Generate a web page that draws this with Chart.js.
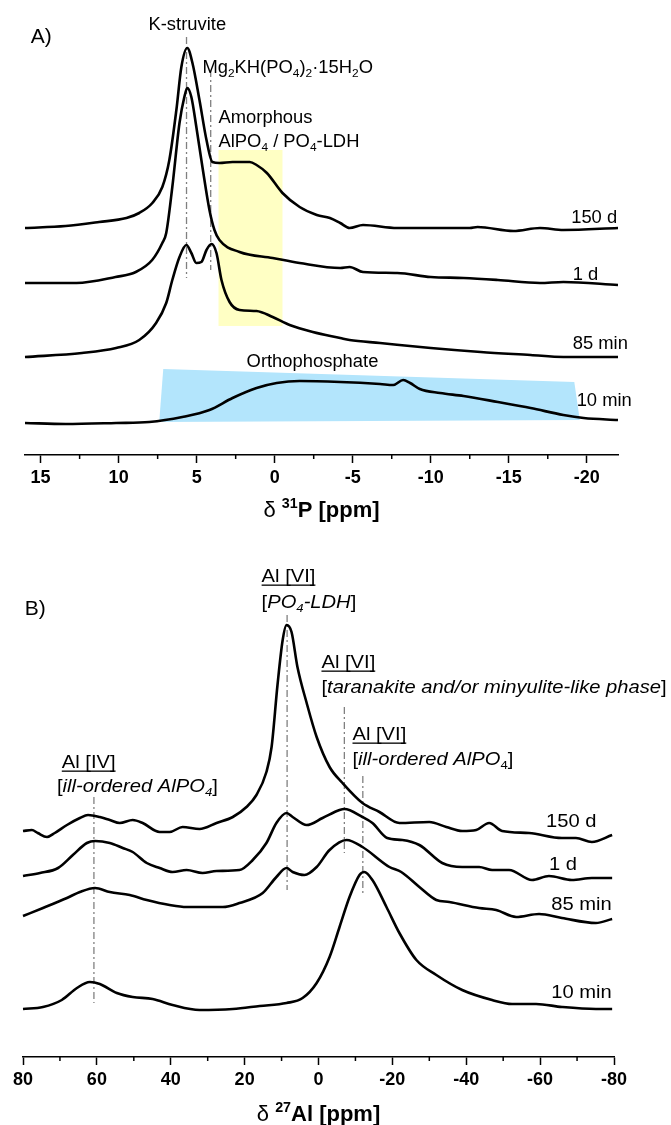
<!DOCTYPE html>
<html>

<head>
    <title>31P and 27Al NMR spectra</title>
    <script src="https://cdn.jsdelivr.net/npm/chart.js"></script>
    <style>
        body { margin: 0; background: #fff; }
        canvas { display: block; }
    </style>
</head>

<body>
    <canvas id="chartP" width="671" height="530"></canvas>
    <canvas id="chartAl" width="671" height="595"></canvas>
    <script>
        const FONT = '"Liberation Sans", Arial, sans-serif';

        // --- 31P spectra (shift in ppm, stacked intensity in a.u.) ---
        const p150dShift = [16, 13.4, 11.25, 9.5, 8.68, 7.84, 7.2, 6.75, 6.3, 5.98, 5.6, 5.27, 4.82, 4.37, 3.99, 3.54, 2.7, 1.6, 1.16, 0.5, -0.5, -1.6, -2.7, -3.54, -4.2, -4.8, -5.66, -7.85, -12.5, -13, -15.3, -17, -18.5, -22];
        const p150dInt = [227, 229, 233, 237, 242, 252, 268, 295, 345, 388, 407, 392, 355, 315, 293, 292, 293, 293, 290, 282, 262, 248, 240, 237, 232, 227, 230, 227, 227, 228, 224, 227, 225, 227];

        const p1dShift = [16, 12.7, 10.2, 8.9, 7.85, 7.2, 6.95, 6.56, 6.1, 5.79, 5.6, 5.34, 5.02, 4.63, 4.18, 3.86, 3.54, 2.25, 0.13, -1.6, -4.2, -4.8, -5.66, -7.85, -10, -12.1, -14.3, -17, -18.5, -22];
        const p1dInt = [172, 172, 178, 183, 195, 212, 222, 268, 332, 358, 367, 358, 328, 288, 245, 225, 215, 203, 197, 192, 187, 188, 183, 182, 178, 177, 175, 172, 173, 170];

        const p85mShift = [16, 12.35, 10.16, 8.68, 7.6, 6.95, 6.56, 6.1, 5.66, 5.34, 5.02, 4.7, 4.37, 4.05, 3.73, 3.41, 2.89, 2.25, 1.16, 0.13, -0.96, -2.44, -4.2, -4.8, -6.75, -10, -13.2, -16.4, -18.5, -22];
        const p85mInt = [98, 102, 107, 115, 132, 152, 175, 198, 210, 202, 192, 193, 205, 211, 202, 175, 153, 145, 144, 138, 130, 123, 117, 115, 112, 107, 103, 100, 98, 98];

        const p10mShift = [16, 13.4, 10.16, 8.04, 5.92, 4.18, 2.7, 1.16, -0.13, -1.6, -4.2, -6.75, -7.6, -8.23, -8.68, -9.3, -10.6, -12.1, -14.3, -16.4, -18.5, -19.8, -22];
        const p10mInt = [32, 31, 32, 33, 38, 45, 57, 67, 72, 74, 73, 71, 70, 75, 72, 66, 62, 59, 53, 47, 40, 37, 35];

        // --- 27Al spectra ---
        const al150dShift = [80, 77.6, 76, 73.5, 71.4, 68.1, 64.6, 62.4, 59.2, 56.5, 53.8, 50.3, 47.6, 43, 40.3, 36.8, 32.2, 27.6, 23.2, 19.5, 16.8, 14.1, 12.7, 11.1, 9.7, 8.65, 7.3, 5.7, 3.2, 0.5, -3, -6.5, -11.9, -16.5, -21.9, -30, -34.6, -38.9, -42.7, -46.2, -49.7, -57, -65.9, -69.7, -74, -79.5];
        const al150dInt = [226, 227, 224, 220, 224, 232, 239, 242, 240, 237, 234, 237, 234, 225, 225, 230, 228, 234, 240, 250, 262, 285, 310, 372, 417, 432, 425, 390, 354, 320, 290, 274, 254, 245, 234, 235, 230, 226, 227, 234, 226, 224, 219, 219, 215, 222];

        const al1dShift = [80, 75.4, 70.5, 66.5, 62.7, 60.5, 56.5, 53, 50.3, 46.5, 43, 39.5, 35.7, 31.4, 27.6, 21.4, 17.8, 14.1, 11.4, 8.65, 7, 3.2, -1.1, -5.7, -7, -11.9, -14.6, -18.6, -22.7, -27.3, -33.5, -38.9, -43.5, -47, -51.6, -57.8, -62.4, -68.6, -74, -79.5];
        const al1dInt = [181, 184, 189, 202, 214, 216, 214, 209, 205, 194, 189, 185, 187, 184, 186, 187, 197, 214, 234, 244, 240, 232, 239, 247, 248, 240, 234, 219, 217, 212, 194, 190, 190, 187, 187, 177, 181, 177, 179, 179];

        const al85mShift = [80, 74.6, 68.1, 64.6, 60.5, 56.5, 51.1, 46.5, 40.3, 35.7, 30.3, 25.9, 21.4, 15.1, 11.4, 8.65, 7, 3.8, 0.5, -3, -7.6, -11.9, -19.2, -22.4, -27.3, -31.9, -35.4, -43.5, -48.1, -53.5, -59.7, -65.9, -75.1, -79.5];
        const al85mInt = [141, 149, 159, 165, 169, 165, 162, 157, 152, 150, 150, 150, 154, 164, 180, 189, 185, 182, 190, 207, 217, 210, 190, 185, 170, 157, 155, 149, 147, 140, 143, 139, 134, 138];

        const al10mShift = [80, 74.6, 69.5, 65.4, 61.9, 59.2, 54.6, 50.3, 44.9, 39.5, 32.2, 23.2, 15.9, 8.65, 4.3, 0.5, -3, -5.7, -8.4, -11.1, -12.4, -14.6, -18.4, -21.9, -26.5, -31.9, -38.9, -47, -52.4, -58.9, -65.9, -75.1, -79.5];
        const al10mInt = [48, 50, 57, 69, 75, 73, 64, 60, 58, 52, 47, 48, 51, 54, 59, 74, 100, 130, 160, 182, 185, 177, 150, 124, 97, 82, 67, 57, 53, 53, 50, 48, 48];

        const sampleLabels = ['150 d', '1 d', '85 min', '10 min'];

        function zip(xs, ys) {
            return xs.map((x, i) => ({ x: x, y: ys[i] }));
        }

        function trace(xs, ys) {
            return {
                data: zip(xs, ys),
                borderColor: '#000',
                borderWidth: 2.6,
                pointRadius: 0,
                fill: false,
                cubicInterpolationMode: 'monotone',
                clip: false
            };
        }

        // draws text made of parts: 'plain' or {t, i, b, sub, sup}; sx = horizontal stretch
        function richText(ctx, parts, x, y, size, align, sx) {
            sx = sx || 1;
            const items = parts.map(p => typeof p === 'string' ? { t: p } : Object.assign({}, p));
            const fontOf = p => {
                const s = (p.sub || p.sup) ? size * 0.65 : size;
                return (p.i ? 'italic ' : '') + (p.b ? 'bold ' : '') + s + 'px ' + FONT;
            };
            let w = 0;
            items.forEach(p => {
                ctx.font = fontOf(p);
                p.w = ctx.measureText(p.t).width * sx;
                w += p.w;
            });
            let cx = align === 'center' ? x - w / 2 : align === 'right' ? x - w : x;
            const x0 = cx;
            ctx.textAlign = 'left';
            ctx.textBaseline = 'alphabetic';
            items.forEach(p => {
                ctx.font = fontOf(p);
                const dy = p.sub ? size * 0.22 : p.sup ? -size * 0.42 : 0;
                ctx.save();
                ctx.translate(cx, y + dy);
                ctx.scale(sx, 1);
                ctx.fillText(p.t, 0, 0);
                ctx.restore();
                cx += p.w;
            });
            return { x0: x0, w: w };
        }

        function makeDecor(cfg) {
            return {
                id: 'decor',
                beforeDatasetsDraw(chart) {
                    const ctx = chart.ctx, xs = chart.scales.x, ys = chart.scales.y;
                    ctx.save();
                    cfg.fills.forEach(f => {
                        ctx.fillStyle = f.color;
                        ctx.beginPath();
                        f.pts.forEach((pt, i) => {
                            const px = xs.getPixelForValue(pt[0]), py = ys.getPixelForValue(pt[1]);
                            if (i) ctx.lineTo(px, py); else ctx.moveTo(px, py);
                        });
                        ctx.closePath();
                        ctx.fill();
                    });
                    ctx.strokeStyle = '#808080';
                    ctx.lineWidth = 1.3;
                    ctx.setLineDash([7, 3, 2, 3]);
                    cfg.guides.forEach(g => {
                        const px = xs.getPixelForValue(g.x);
                        ctx.beginPath();
                        ctx.moveTo(px, ys.getPixelForValue(g.y0));
                        ctx.lineTo(px, ys.getPixelForValue(g.y1));
                        ctx.stroke();
                    });
                    ctx.restore();
                },
                afterDraw(chart) {
                    const ctx = chart.ctx, xs = chart.scales.x, ys = chart.scales.y;
                    const area = chart.chartArea;
                    ctx.save();
                    // minor ticks
                    ctx.strokeStyle = '#000';
                    ctx.lineWidth = 1.5;
                    cfg.minor.forEach(v => {
                        const px = xs.getPixelForValue(v);
                        ctx.beginPath();
                        ctx.moveTo(px, area.bottom);
                        ctx.lineTo(px, area.bottom + 4);
                        ctx.stroke();
                    });
                    ctx.fillStyle = '#000';
                    cfg.texts.forEach(t => {
                        const px = xs.getPixelForValue(t.x), py = ys.getPixelForValue(t.y);
                        const r = richText(ctx, t.parts, px, py, t.size || cfg.textSize, t.align || 'left', t.size ? 1 : cfg.stretch);
                        if (t.underline) {
                            ctx.fillRect(r.x0, py + 2.5, r.w, 1.3);
                        }
                    });
                    // axis title
                    richText(ctx, cfg.title, (area.left + area.right) / 2, cfg.titleY, 22, 'center', 1);
                    ctx.restore();
                }
            };
        }

        function baseOptions(min, max, step, axisHeight, padRight, padLeft) {
            return {
                responsive: false,
                animation: false,
                devicePixelRatio: 1,
                layout: { padding: { left: padLeft, right: padRight, top: 0, bottom: 0 } },
                plugins: { legend: { display: false }, tooltip: { enabled: false } },
                scales: {
                    x: {
                        type: 'linear',
                        reverse: true,
                        min: min,
                        max: max,
                        afterFit: s => { s.height = axisHeight; },
                        border: { display: true, color: '#000', width: 1.5 },
                        grid: { drawOnChartArea: false, drawTicks: true, tickLength: 8, tickColor: '#000', tickWidth: 1.5 },
                        ticks: {
                            stepSize: step,
                            includeBounds: false,
                            maxRotation: 0,
                            autoSkip: false,
                            padding: 4,
                            color: '#000',
                            font: { family: FONT, size: 18, weight: 'bold' }
                        }
                    },
                    y: { display: false, min: 0 }
                }
            };
        }

        const sub4 = { t: '4', sub: true };
        const sub2 = { t: '2', sub: true };

        // --- panel A ---
        const optsP = baseOptions(-22, 16, 5, 75, 53, 25);
        optsP.scales.y.max = 455;
        new Chart(document.getElementById('chartP'), {
            type: 'line',
            data: {
                datasets: [
                    trace(p150dShift, p150dInt),
                    trace(p1dShift, p1dInt),
                    trace(p85mShift, p85mInt),
                    trace(p10mShift, p10mInt)
                ]
            },
            options: optsP,
            plugins: [makeDecor({
                textSize: 17.5,
                stretch: 1.05,
                fills: [
                    { color: '#ffffc4', pts: [[3.6, 305], [-0.5, 305], [-0.5, 129], [3.6, 129]] },
                    { color: '#b3e5fc', pts: [[7.14, 86], [-19.2, 73], [-19.55, 35], [7.4, 33]] }
                ],
                guides: [
                    { x: 5.65, y0: 418, y1: 177 },
                    { x: 4.1, y0: 385, y1: 185 }
                ],
                minor: [12.5, 7.5, 2.5, -2.5, -7.5, -12.5, -17.5],
                texts: [
                    { x: 15.63, y: 412, parts: ['A)'], size: 21 },
                    { x: 5.6, y: 425, parts: ['K-struvite'], align: 'center' },
                    { x: 4.63, y: 382, parts: ['Mg', sub2, 'KH(PO', sub4, ')', sub2, '·15H', sub2, 'O'] },
                    { x: 3.6, y: 332, parts: ['Amorphous'] },
                    { x: 3.6, y: 308, parts: ['AlPO', sub4, ' / PO', sub4, '-LDH'] },
                    { x: 1.8, y: 88, parts: ['Orthophosphate'] },
                    { x: -19.0, y: 232, parts: [sampleLabels[0]] },
                    { x: -19.1, y: 175, parts: [sampleLabels[1]] },
                    { x: -19.1, y: 106, parts: [sampleLabels[2]] },
                    { x: -19.35, y: 49, parts: [sampleLabels[3]] }
                ],
                title: ['δ ', { t: '31', sup: true, b: true }, { t: 'P [ppm]', b: true }],
                titleY: 517
            })]
        });

        // --- panel B ---
        const optsAl = baseOptions(-80, 80, 20, 68, 57, 23);
        optsAl.scales.y.max = 527;
        new Chart(document.getElementById('chartAl'), {
            type: 'line',
            data: {
                datasets: [
                    trace(al150dShift, al150dInt),
                    trace(al1dShift, al1dInt),
                    trace(al85mShift, al85mInt),
                    trace(al10mShift, al10mInt)
                ]
            },
            options: optsAl,
            plugins: [makeDecor({
                textSize: 18,
                stretch: 1.12,
                fills: [],
                guides: [
                    { x: 8.5, y0: 442, y1: 167 },
                    { x: -7, y0: 350, y1: 204 },
                    { x: -12, y0: 281, y1: 164 },
                    { x: 60.8, y0: 260, y1: 54 }
                ],
                minor: [70, 50, 30, 10, -10, -30, -50, -70],
                texts: [
                    { x: 79.5, y: 442, parts: ['B)'], size: 21 },
                    { x: 15.4, y: 475, parts: ['Al [VI]'], underline: true },
                    { x: 15.4, y: 449, parts: ['[', { t: 'PO', i: true }, { t: '4', sub: true, i: true }, { t: '-LDH', i: true }, ']'] },
                    { x: -0.8, y: 389, parts: ['Al [VI]'], underline: true },
                    { x: -0.8, y: 364, parts: ['[', { t: 'taranakite and/or minyulite-like phase', i: true }, ']'] },
                    { x: -9.2, y: 317, parts: ['Al [VI]'], underline: true },
                    { x: -9.2, y: 292, parts: ['[', { t: 'ill-ordered AlPO', i: true }, sub4, ']'] },
                    { x: 69.5, y: 289, parts: ['Al [IV]'], underline: true },
                    { x: 70.8, y: 265, parts: ['[', { t: 'ill-ordered AlPO', i: true }, { t: '4', sub: true, i: true }, ']'] },
                    { x: -61.6, y: 230, parts: [sampleLabels[0]] },
                    { x: -62.4, y: 187, parts: [sampleLabels[1]] },
                    { x: -63, y: 147, parts: [sampleLabels[2]] },
                    { x: -63, y: 59, parts: [sampleLabels[3]] }
                ],
                title: ['δ ', { t: '27', sup: true, b: true }, { t: 'Al [ppm]', b: true }],
                titleY: 591
            })]
        });
    </script>
</body>

</html>
